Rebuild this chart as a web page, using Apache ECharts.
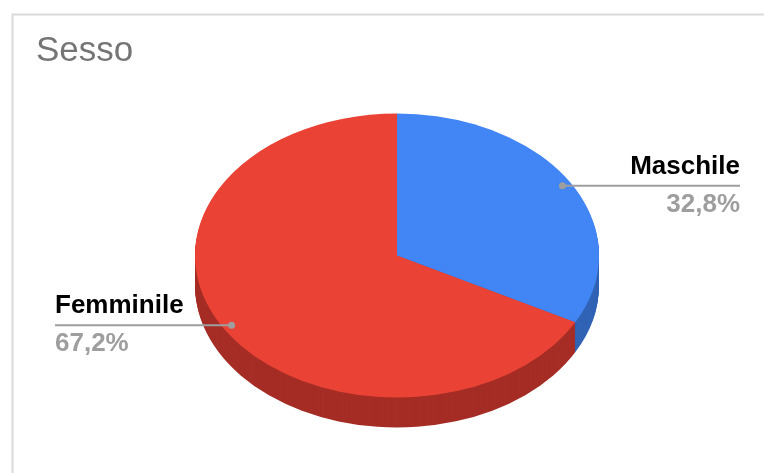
<!DOCTYPE html>
<html>
<head>
<meta charset="utf-8">
<script src="https://cdn.jsdelivr.net/npm/echarts@6/dist/echarts.min.js"></script>
<style>
html,body{margin:0;padding:0;background:#fff;}
#chart{width:764px;height:473px;}
</style>
</head>
<body>
<div id="chart"></div>
<script>
// ---- data ----
var categories = ['Maschile', 'Femminile'];
var values = [32.8, 67.2];
var titleText = 'Sesso';

// ---- styles / layout ----
var topColors = ['#4285f4', '#ea4335'];
var sideColors = ['#3163b5', '#a52d25'];
var CX = 397, CY = 255.5, RX = 202, RY = 142, DEPTH = 30;
var K = RY / RX;

var total = values.reduce(function (a, b) { return a + b; }, 0);
function startFrac(i) {
  var s = 0;
  for (var j = 0; j < i; j++) s += values[j];
  return s / total;
}
function fmtPct(v) {
  return (v / total * 100).toFixed(1).replace('.', ',') + '%';
}

var chart = echarts.init(document.getElementById('chart'), null, {renderer: 'canvas'});

function angles(i, v) {
  var s = startFrac(i), e = s + v / total;
  return [-Math.PI / 2 + s * 2 * Math.PI, -Math.PI / 2 + e * 2 * Math.PI];
}

function renderSide(params, api) {
  var i = params.dataIndex;
  var a = angles(i, api.value(0));
  var children = [];
  for (var d = DEPTH; d >= 1; d--) {
    children.push({
      type: 'sector',
      shape: {cx: 0, cy: d / K, r: RX, r0: 0, startAngle: a[0], endAngle: a[1], clockwise: true},
      style: {fill: sideColors[i]}
    });
  }
  return {type: 'group', x: CX, y: CY, scaleY: K, children: children};
}

function renderTop(params, api) {
  var i = params.dataIndex;
  var v = api.value(0);
  var a = angles(i, v);
  var mid = (a[0] + a[1]) / 2;
  var f = 0.955;
  var dx = CX + f * RX * Math.cos(mid);
  var dy = CY + f * RY * Math.sin(mid);
  var right = Math.cos(mid) >= 0;
  var endX = right ? 740 : 55;
  return {
    type: 'group',
    children: [
      {
        type: 'group', x: CX, y: CY, scaleY: K,
        children: [{
          type: 'sector',
          shape: {cx: 0, cy: 0, r: RX, r0: 0, startAngle: a[0], endAngle: a[1], clockwise: true},
          style: {fill: topColors[i]}
        }]
      },
      {
        type: 'line',
        shape: {x1: dx, y1: dy, x2: endX, y2: dy},
        style: {stroke: '#9e9e9e', lineWidth: 2}
      },
      {
        type: 'circle',
        shape: {cx: dx, cy: dy, r: 3.5},
        style: {fill: '#9e9e9e'}
      },
      {
        type: 'text',
        x: endX, y: dy - 6,
        style: {
          text: categories[i], fill: '#000', fontSize: 26, fontWeight: 'bold',
          fontFamily: 'Liberation Sans, Arial, sans-serif',
          align: right ? 'right' : 'left', verticalAlign: 'bottom'
        }
      },
      {
        type: 'text',
        x: endX, y: dy + 6,
        style: {
          text: fmtPct(v), fill: '#9e9e9e', fontSize: 26, fontWeight: 'bold',
          fontFamily: 'Liberation Sans, Arial, sans-serif',
          align: right ? 'right' : 'left', verticalAlign: 'top'
        }
      }
    ]
  };
}

var seriesData = values.map(function (v, i) { return {name: categories[i], value: [v]}; });

chart.setOption({
  animation: false,
  backgroundColor: '#ffffff',
  title: {
    text: titleText, left: 31, top: 29,
    textStyle: {fontSize: 35, fontWeight: 'normal', color: '#757575', fontFamily: 'Liberation Sans, Arial, sans-serif'}
  },
  graphic: [{
    type: 'rect', left: 10, top: 12, z: -10,
    shape: {x: 0, y: 0, width: 800, height: 500},
    style: {fill: 'none', stroke: '#dadada', lineWidth: 2}
  }],
  series: [
    {type: 'custom', coordinateSystem: 'none', renderItem: renderSide, data: seriesData, z: 1, silent: true},
    {type: 'custom', coordinateSystem: 'none', renderItem: renderTop, data: seriesData, z: 2, silent: true}
  ]
});
</script>
</body>
</html>
